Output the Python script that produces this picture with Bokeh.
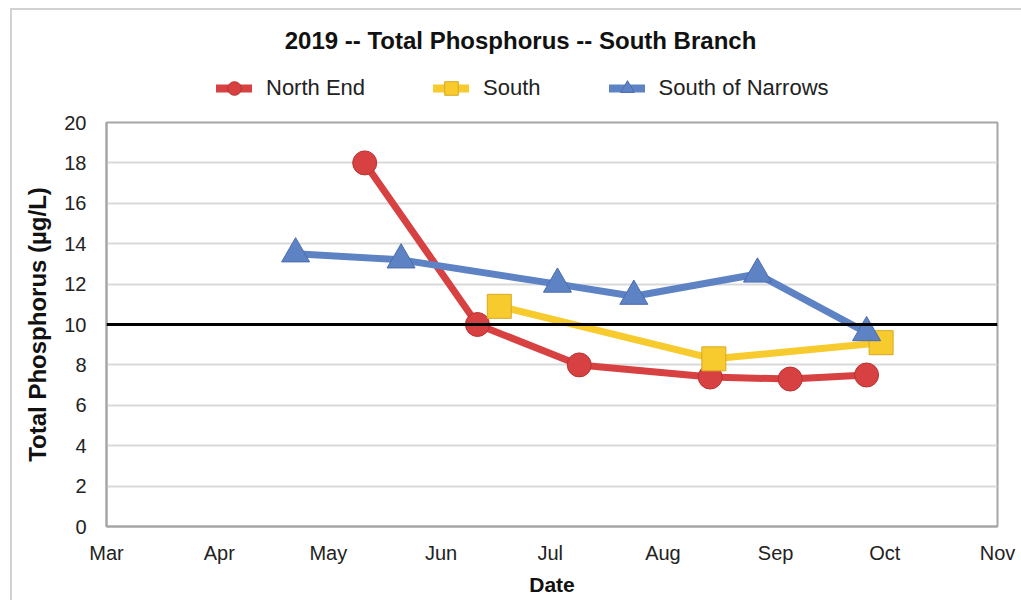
from datetime import datetime
import pandas as pd
from bokeh.plotting import figure
from bokeh.layouts import column
from bokeh.models import (Range1d, DatetimeTickFormatter, MonthsTicker, Legend, LegendItem,
                          Span, FixedTicker, ColumnDataSource, Label)
from bokeh.embed import file_html
from bokeh.resources import INLINE

# ---- data ----
north_dates = ["2019-05-11", "2019-06-11", "2019-07-09", "2019-08-14", "2019-09-05", "2019-09-26"]
north_vals = [18.0, 10.0, 8.0, 7.4, 7.3, 7.5]
south_dates = ["2019-06-17", "2019-08-15", "2019-09-30"]
south_vals = [10.9, 8.3, 9.1]
narrows_dates = ["2019-04-22", "2019-05-21", "2019-07-03", "2019-07-24", "2019-08-27", "2019-09-26"]
narrows_vals = [13.5, 13.2, 12.0, 11.4, 12.5, 9.6]
series_names = ["North End", "South", "South of Narrows"]
y_ticks = [0, 2, 4, 6, 8, 10, 12, 14, 16, 18, 20]
threshold = 10
title_text = "2019 -- Total Phosphorus -- South Branch"

FONT = "Liberation Sans"
red = "#d84141"
yellow = "#f7ca2e"
blue = "#5e83c4"
styles_list = [(red, "circle", 24, "#b83232"),
               (yellow, "square", 24, "#d8a920"),
               (blue, "triangle", 28, "#4a6cae")]

W = 1009
TOP_H = 96
MAIN_H = 494

# ---------- header figure (title + legend) ----------
# its frame is aligned with the main chart's frame by the column layout
top = figure(width=W, height=TOP_H, output_backend="svg", toolbar_location=None,
             x_range=Range1d(106, 997), y_range=Range1d(106, 10),
             x_axis_location=None, y_axis_location=None,
             min_border_left=94, min_border_right=24, min_border_top=0, min_border_bottom=0)
top.outline_line_color = None
top.grid.visible = False
top.add_layout(Label(x=520, y=40, text=title_text, text_align="center", text_baseline="middle",
                     text_font=FONT, text_font_size="24px", text_font_style="bold",
                     text_color="#111111"))

items = []
for name, (c, m, s, e) in zip(series_names, styles_list):
    proxy = ColumnDataSource(dict(x=[float("nan")], y=[float("nan")]))
    ln = top.line("x", "y", source=proxy, line_color=c, line_width=8, line_cap="round")
    sc = top.scatter("x", "y", source=proxy, marker=m, size=s, fill_color=c,
                     line_color=e, line_width=1)
    items.append(LegendItem(label=name, renderers=[ln, sc]))

legend = Legend(items=items, orientation="horizontal", location=(110, 1),
                label_text_font=FONT, label_text_font_size="22px", label_text_color="#222222",
                glyph_width=36, glyph_height=34, spacing=68, label_standoff=14,
                border_line_color=None, background_fill_alpha=0, padding=2, margin=0)
top.add_layout(legend, "center")

# ---------- main chart ----------
p = figure(width=W, height=MAIN_H, output_backend="svg", toolbar_location=None,
           x_axis_type="datetime",
           x_range=Range1d(datetime(2019, 3, 1), datetime(2019, 11, 1)),
           y_range=Range1d(0, 20),
           min_border_left=94, min_border_right=24, min_border_top=16, min_border_bottom=74)

p.outline_line_color = "#a6a6a6"
p.outline_line_width = 2
p.xgrid.visible = False
p.ygrid.grid_line_color = "#d9d9d9"
p.ygrid.grid_line_width = 2

p.yaxis.ticker = FixedTicker(ticks=y_ticks)
p.xaxis.ticker = MonthsTicker(months=list(range(12)))
p.xaxis.formatter = DatetimeTickFormatter(months="%b", days="%b")
for ax in (p.xaxis, p.yaxis):
    ax.axis_line_color = "#a6a6a6"
    ax.axis_line_width = 2
    ax.major_tick_line_color = None
    ax.minor_tick_line_color = None
    ax.major_label_text_font = FONT
    ax.major_label_text_font_size = "20px"
    ax.major_label_text_color = "#222222"
    ax.axis_label_text_font = FONT
    ax.axis_label_text_font_style = "bold"
    ax.axis_label_text_color = "#111111"
p.xaxis.axis_label = "Date"
p.xaxis.axis_label_text_font_size = "21px"
p.xaxis.major_label_standoff = 9
p.xaxis.axis_label_standoff = 6
p.yaxis.axis_label = "Total Phosphorus (µg/L)"
p.yaxis.axis_label_text_font_size = "24px"
p.yaxis.major_label_standoff = 14
p.yaxis.axis_label_standoff = 10

p.add_layout(Span(location=threshold, dimension="width", line_color="black", line_width=3))

for dates, vals, (c, m, s, e) in zip([north_dates, south_dates, narrows_dates],
                                     [north_vals, south_vals, narrows_vals], styles_list):
    src = ColumnDataSource(dict(x=pd.to_datetime(dates), y=vals))
    p.line("x", "y", source=src, line_color=c, line_width=7, line_join="round")
    p.scatter("x", "y", source=src, marker=m, size=s, fill_color=c, line_color=e, line_width=1)

layout = column(top, p, spacing=0, margin=(8, 0, 0, 10),
                styles={"border-left": "2px solid #d2d2d2", "border-top": "2px solid #d2d2d2"})

open("out.html", "w").write(file_html(layout, INLINE))
